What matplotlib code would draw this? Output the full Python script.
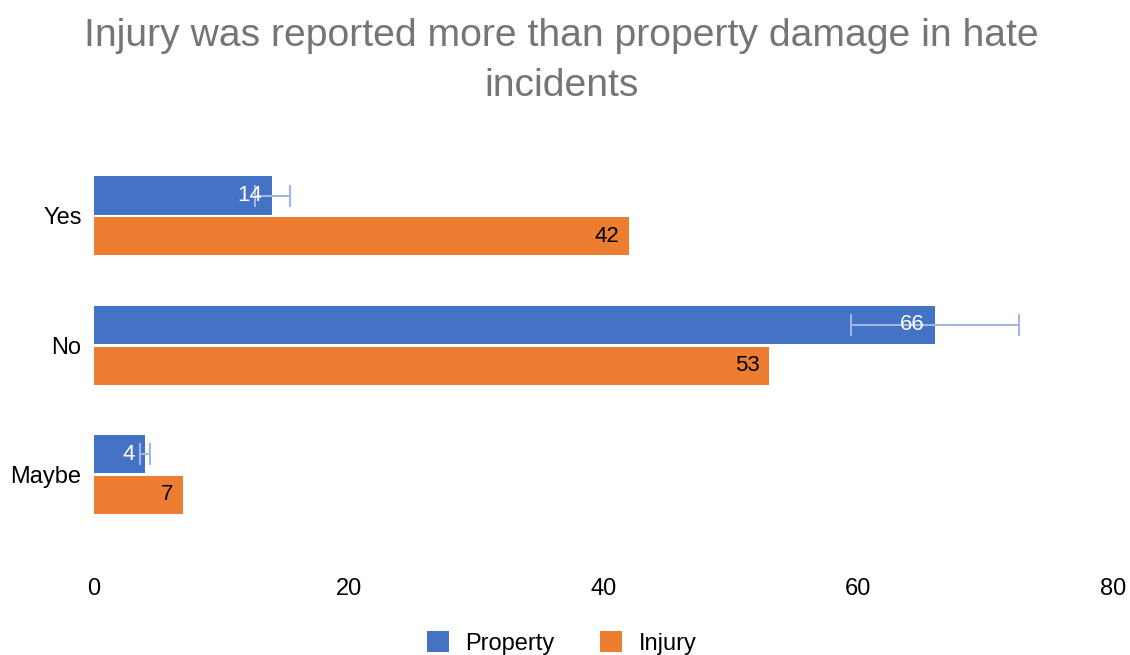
import matplotlib.pyplot as plt
import numpy as np

plt.rcParams['font.family'] = ['Liberation Sans', 'DejaVu Sans']

categorias = ["Yes", "No", "Maybe"]
propiedad = [14, 66, 4]
lesion = [42, 53, 7]
error_pct = 0.10  # barras de error del 10%

azul = "#4472C4"
naranja = "#ED7D31"

fig = plt.figure(figsize=(11.3, 6.55), dpi=100)
ax = fig.add_axes([0.0832, 0.177, 0.9018, 0.592])

y = np.arange(len(categorias))
alto = 0.295
off = 0.158

err = [v * error_pct for v in propiedad]
ax.barh(y - off, propiedad, height=alto, color=azul, label="Property", zorder=2)
ax.barh(y + off, lesion, height=alto, color=naranja, label="Injury", zorder=2)
ax.errorbar(propiedad, y - off, xerr=err, fmt="none", ecolor="#9FB6E6",
            elinewidth=1.5, capsize=8, capthick=1.5, zorder=3)

for yi, v in zip(y, propiedad):
    ax.annotate(str(v), (v, yi - off), xytext=(-7, 0), textcoords="offset points",
                ha="right", va="center", color="white", fontsize=16, zorder=4)
for yi, v in zip(y, lesion):
    ax.annotate(str(v), (v, yi + off), xytext=(-7, 0), textcoords="offset points",
                ha="right", va="center", color="black", fontsize=16, zorder=4)

ax.set_xlim(0, 80)
ax.set_ylim(2.5, -0.5)
ax.set_yticks(y)
ax.set_yticklabels(categorias)
ax.set_xticks([0, 20, 40, 60, 80])
ax.tick_params(axis="both", length=0, labelsize=17, colors="black")
ax.tick_params(axis="x", pad=28)
ax.tick_params(axis="y", pad=9)
for s in ax.spines.values():
    s.set_visible(False)

fig.text(0.497, 0.972, "Injury was reported more than property damage in hate\nincidents",
         ha="center", va="top", fontsize=28.2, color="#757575", linespacing=1.5)

fig.legend(loc="lower center", bbox_to_anchor=(0.497, -0.032), ncol=2, frameon=False,
           fontsize=17, handlelength=0.95, handleheight=0.95, columnspacing=1.9,
           handletextpad=0.7)

fig.savefig("out.png", dpi=100)
